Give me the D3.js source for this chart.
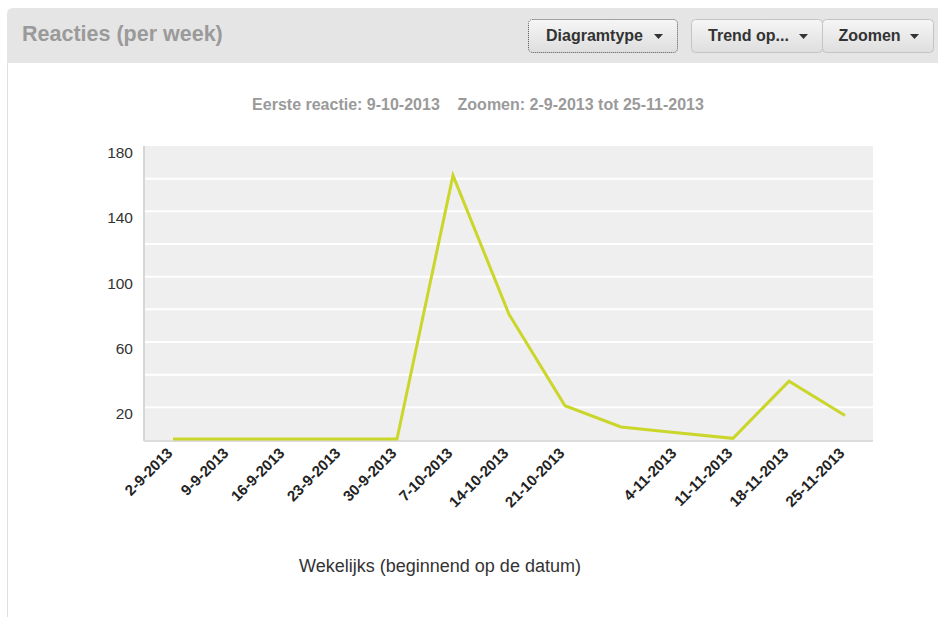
<!DOCTYPE html>
<html>
<head>
<meta charset="utf-8">
<script src="https://cdn.jsdelivr.net/npm/d3@7"></script>
<style>
  body { margin: 0; background: #fff; font-family: "Liberation Sans", Arial, sans-serif; }
  #chart { width: 938px; height: 617px; }
</style>
</head>
<body>
<div id="chart"></div>
<script>
// week start dates and reactions per week
const weeks = ['2-9-2013', '9-9-2013', '16-9-2013', '23-9-2013', '30-9-2013', '7-10-2013',
  '14-10-2013', '21-10-2013', '28-10-2013', '4-11-2013', '11-11-2013', '18-11-2013', '25-11-2013'];
const tickLabels = ['2-9-2013', '9-9-2013', '16-9-2013', '23-9-2013', '30-9-2013', '7-10-2013',
  '14-10-2013', '21-10-2013', '', '4-11-2013', '11-11-2013', '18-11-2013', '25-11-2013'];
const reacties = [0, 0, 0, 0, 0, 162, 77, 21, 8, 4.5, 1, 36, 15];
const yTicks = [20, 60, 100, 140, 180];
const gridTicks = [20, 40, 60, 80, 100, 120, 140, 160];
const buttons = [
  { label: 'Diagramtype', x: 528, w: 149, focus: true },
  { label: 'Trend op...', x: 691, w: 131 },
  { label: 'Zoomen', x: 822, w: 111 }
];

const width = 938, height = 617;
const plot = { left: 144, right: 873, top: 146, bottom: 440 };

const svg = d3.select('#chart').append('svg')
  .attr('width', width)
  .attr('height', height);

const defs = svg.append('defs');
const grad = defs.append('linearGradient')
  .attr('id', 'btn')
  .attr('x1', 0).attr('y1', 0).attr('x2', 0).attr('y2', 1);
grad.append('stop').attr('offset', '0%').attr('stop-color', '#f6f6f6');
grad.append('stop').attr('offset', '100%').attr('stop-color', '#dedede');

// panel header
svg.append('path')
  .attr('d', `M7,63 V14 Q7,8 13,8 H938 V63 Z`)
  .attr('fill', '#e5e5e5');
svg.append('line')
  .attr('x1', 7.5).attr('x2', 7.5).attr('y1', 63).attr('y2', height)
  .attr('stroke', '#e0e0e0');

svg.append('text')
  .attr('x', 22).attr('y', 41)
  .attr('font-size', 21.5).attr('font-weight', 'bold')
  .attr('fill', '#9a9a9a')
  .text('Reacties (per week)');

const btn = svg.selectAll('.btn')
  .data(buttons)
  .enter().append('g')
  .attr('class', 'btn')
  .attr('transform', d => `translate(${d.x},19)`);

btn.append('rect')
  .attr('x', 0.5).attr('y', 0.5)
  .attr('width', d => d.w).attr('height', 33)
  .attr('rx', 4)
  .attr('fill', 'url(#btn)')
  .attr('stroke', d => d.focus ? '#555' : '#c4c4c4')
  .attr('stroke-dasharray', d => d.focus ? '1,1' : null);

btn.append('text')
  .attr('x', d => d.w / 2 - 8).attr('y', 21.5)
  .attr('text-anchor', 'middle')
  .attr('font-size', 16).attr('font-weight', 'bold')
  .attr('fill', '#333')
  .text(d => d.label);

btn.append('path')
  .attr('d', d => `M${d.w - 23},15 h9 l-4.5,5 Z`)
  .attr('fill', '#333');

// subtitle
svg.append('text')
  .attr('x', 478).attr('y', 110)
  .attr('text-anchor', 'middle')
  .attr('font-size', 16).attr('font-weight', 'bold')
  .attr('fill', '#9a9a9a')
  .attr('xml:space', 'preserve')
  .text('Eerste reactie: 9-10-2013    Zoomen: 2-9-2013 tot 25-11-2013');

// scales
const x = d3.scalePoint()
  .domain(weeks)
  .range([173, 845]);

const y = d3.scaleLinear()
  .domain([0, 180])
  .range([plot.bottom, plot.top]);

// plot background
svg.append('rect')
  .attr('x', plot.left).attr('y', plot.top)
  .attr('width', plot.right - plot.left).attr('height', plot.bottom - plot.top)
  .attr('fill', '#efefef');

svg.selectAll('.grid')
  .data(gridTicks)
  .enter().append('line')
  .attr('class', 'grid')
  .attr('x1', plot.left).attr('x2', plot.right)
  .attr('y1', d => y(d)).attr('y2', d => y(d))
  .attr('stroke', '#fff')
  .attr('stroke-width', 2);

svg.append('line')
  .attr('x1', plot.left).attr('x2', plot.left)
  .attr('y1', plot.top).attr('y2', plot.bottom + 1)
  .attr('stroke', '#d6d6d6').attr('stroke-width', 2);
svg.append('line')
  .attr('x1', plot.left).attr('x2', plot.right)
  .attr('y1', plot.bottom + 1).attr('y2', plot.bottom + 1)
  .attr('stroke', '#dcdcdc').attr('stroke-width', 2);

// y axis
const yAxis = svg.append('g')
  .attr('transform', `translate(${plot.left},0)`)
  .call(d3.axisLeft(y).tickValues(yTicks).tickSize(0).tickPadding(11));
yAxis.select('.domain').remove();
yAxis.selectAll('text')
  .attr('font-family', '"Liberation Sans", Arial, sans-serif')
  .attr('font-size', 15.5)
  .attr('fill', '#333')
  .attr('dy', '0.35em')
  .attr('y', 6);

// x axis
const xAxis = svg.append('g')
  .attr('transform', `translate(0,${plot.bottom})`)
  .call(d3.axisBottom(x).tickSize(0).tickFormat((d, i) => tickLabels[i]));
xAxis.select('.domain').remove();
xAxis.selectAll('text')
  .attr('font-family', '"Liberation Sans", Arial, sans-serif')
  .attr('font-size', 15)
  .attr('font-weight', 'bold')
  .attr('fill', '#222')
  .attr('text-anchor', 'end')
  .attr('dy', null)
  .attr('y', 0)
  .attr('transform', 'translate(0,14) rotate(-45)');

// line
svg.append('path')
  .datum(reacties)
  .attr('fill', 'none')
  .attr('stroke', '#cbd62a')
  .attr('stroke-width', 3)
  .attr('stroke-linejoin', 'miter')
  .attr('d', d3.line()
    .x((d, i) => x(weeks[i]))
    .y(d => Math.min(y(d), plot.bottom - 1)));

// axis title
svg.append('text')
  .attr('x', 440).attr('y', 572)
  .attr('text-anchor', 'middle')
  .attr('font-size', 18)
  .attr('fill', '#333')
  .text('Wekelijks (beginnend op de datum)');
</script>
</body>
</html>
